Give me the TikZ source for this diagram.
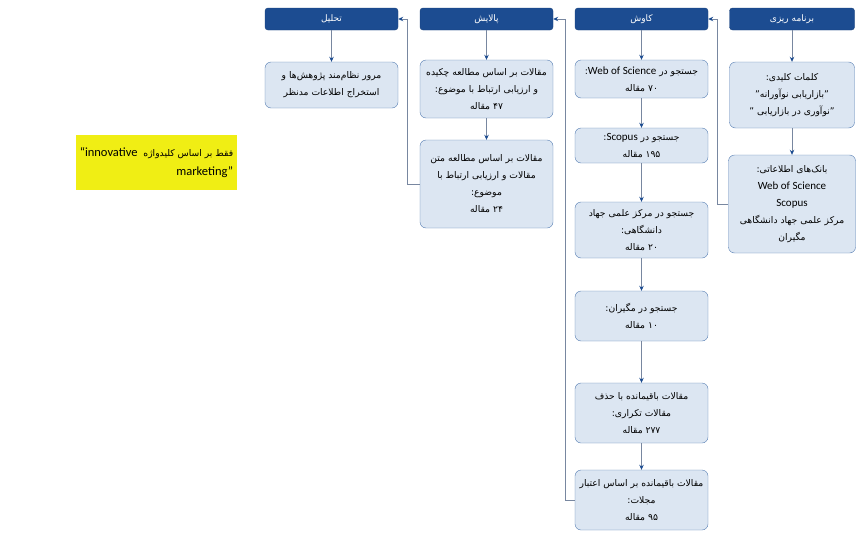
\documentclass[tikz,border=0pt]{standalone}
\usepackage{fontspec}
\setmainfont{Carlito}
\newfontfamily\fa[Script=Arabic]{DejaVu Sans}
\newfontfamily\lat{Carlito}
\TeXXeTstate=1
\usetikzlibrary{arrows.meta}

\definecolor{hdblue}{RGB}{28,76,145}
\definecolor{boxfill}{RGB}{220,230,242}
\definecolor{boxline}{RGB}{84,124,178}
\definecolor{linkgray}{RGB}{120,135,160}
\definecolor{noteyellow}{RGB}{240,238,20}
\newcommand{\rl}[1]{\beginR #1\endR}
\newcommand{\en}[1]{\beginL{\lat\fontsize{11}{17}\selectfont #1}\endL}

\begin{document}
\begin{tikzpicture}[x=1pt,y=-1pt,
  head/.style={draw=hdblue!85!black, fill=hdblue, text=white, rounded corners=3pt,
    minimum height=22pt, inner sep=1pt, font=\fa\fontsize{9}{10}\selectfont},
  stepbox/.style={draw=boxline, fill=boxfill, rounded corners=6pt, align=center,
    inner sep=1pt, font=\fa\fontsize{9.2}{17}\selectfont},
  link/.style={draw=linkgray, line width=0.7pt, -{Stealth[length=5pt,width=4.5pt,color=hdblue]}}]
  \useasboundingbox (0,0) rectangle (857,533);

  % headers
  \node[head, minimum width=125pt] (plan) at (792,19) {\rl{برنامه ریزی}};
  \node[head, minimum width=133pt] (search) at (641.5,19) {\rl{کاوش}};
  \node[head, minimum width=133pt] (refine) at (486.5,19) {\rl{پالایش}};
  \node[head, minimum width=133pt] (analysis) at (331.5,19) {\rl{تحلیل}};

  % planning
  \node[stepbox, minimum width=125pt, minimum height=66pt] (keywords) at (792,95)
    {\rl{کلمات کلیدی:}\\ \rl{”بازاریابی نوآورانه”}\\ \rl{”نوآوری در بازاریابی ”}};
  \node[stepbox, minimum width=127pt, minimum height=98pt] (databases) at (792,204)
    {\rl{بانک‌های اطلاعاتی:}\\ \en{Web of Science}\\ \en{Scopus}\\
     \rl{مرکز علمی جهاد دانشگاهی}\\ \rl{مگیران}};

  % search
  \node[stepbox, minimum width=133pt, minimum height=38pt] (wos) at (641.5,79)
    {\rl{جستجو در \en{Web of Science}:}\\ \rl{۷۰ مقاله}};
  \node[stepbox, minimum width=133pt, minimum height=35pt] (scopus) at (641.5,145.5)
    {\rl{جستجو در \en{Scopus}:}\\ \rl{۱۹۵ مقاله}};
  \node[stepbox, minimum width=133pt, minimum height=56pt] (jihad) at (641.5,230)
    {\rl{جستجو در مرکز علمی جهاد}\\ \rl{دانشگاهی:}\\ \rl{۲۰ مقاله}};
  \node[stepbox, minimum width=133pt, minimum height=50pt] (magiran) at (641.5,316)
    {\rl{جستجو در مگیران:}\\ \rl{۱۰ مقاله}};
  \node[stepbox, minimum width=133pt, minimum height=60pt] (dedup) at (641.5,413)
    {\rl{مقالات باقیمانده با حذف}\\ \rl{مقالات تکراری:}\\ \rl{۲۷۷ مقاله}};
  \node[stepbox, minimum width=133pt, minimum height=60pt] (journals) at (641.5,500)
    {\rl{مقالات باقیمانده بر اساس اعتبار}\\ \rl{مجلات:}\\ \rl{۹۵ مقاله}};

  % refinement
  \node[stepbox, minimum width=133pt, minimum height=58pt] (abstracts) at (486.5,89)
    {\rl{مقالات بر اساس مطالعه چکیده}\\ \rl{و ارزیابی ارتباط با موضوع:}\\ \rl{۴۷ مقاله}};
  \node[stepbox, minimum width=133pt, minimum height=88pt] (fulltext) at (486.5,184)
    {\rl{مقالات بر اساس مطالعه متن}\\ \rl{مقالات و ارزیابی ارتباط با}\\ \rl{موضوع:}\\ \rl{۲۴ مقاله}};

  % analysis
  \node[stepbox, minimum width=133pt, minimum height=46pt] (review) at (331.5,85)
    {\rl{مرور نظام‌مند پژوهش‌ها و}\\ \rl{استخراج اطلاعات مدنظر}};

  % note
  \node[fill=noteyellow, minimum width=161pt, minimum height=55pt, align=right, inner sep=4pt,
    font=\fa\fontsize{9.2}{19}\selectfont] (note) at (156.5,162.5)
    {\rl{فقط بر اساس کلیدواژه \ \beginL{\lat\fontsize{12.5}{19}\selectfont “innovative}\endL}\\
     \rl{\beginL{\lat\fontsize{12.5}{19}\selectfont marketing”}\endL}};

  % links
  \draw[link] (plan) -- (keywords);
  \draw[link] (keywords) -- (databases);
  \draw[link] (databases.west) -- ++(-11,0) |- (search.east);
  \draw[link] (search) -- (wos);
  \draw[link] (wos) -- (scopus);
  \draw[link] (scopus) -- (jihad);
  \draw[link] (jihad) -- (magiran);
  \draw[link] (magiran) -- (dedup);
  \draw[link] (dedup) -- (journals);
  \draw[link] (journals.west) -- ++(-9,0) |- (refine.east);
  \draw[link] (refine) -- (abstracts);
  \draw[link] (abstracts) -- (fulltext);
  \draw[link] (fulltext.west) -- ++(-12,0) |- (analysis.east);
  \draw[link] (analysis) -- (review);
\end{tikzpicture}
\end{document}
